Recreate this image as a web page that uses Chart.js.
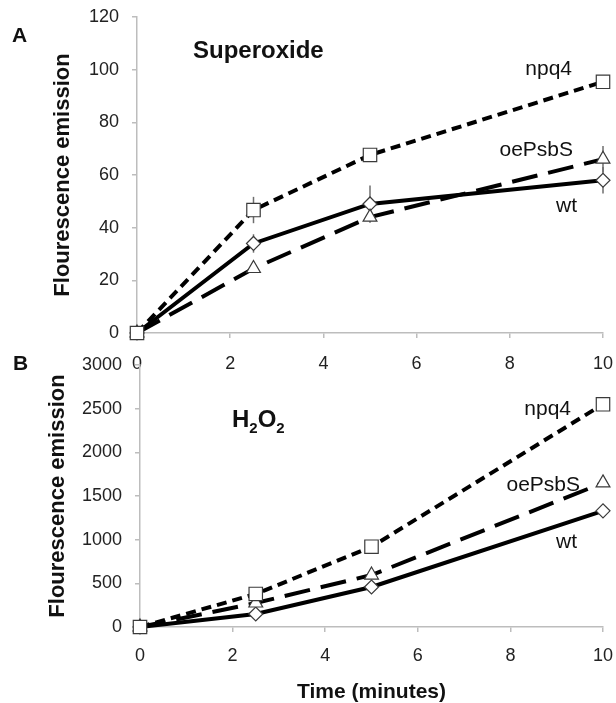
<!DOCTYPE html>
<html>
<head>
<meta charset="utf-8">
<script src="https://cdn.jsdelivr.net/npm/chart.js@4.4.1/dist/chart.umd.min.js"></script>
<style>
  html, body { margin: 0; padding: 0; background: #fff; }
  #wrap { position: relative; width: 616px; height: 703px; overflow: hidden; }
  canvas { position: absolute; left: 0; }
  #chartA { top: 0; }
  #chartB { top: 340px; }
</style>
</head>
<body>
<div id="wrap">
  <canvas id="chartA" width="616" height="380"></canvas>
  <canvas id="chartB" width="616" height="363"></canvas>
</div>
<script>
// Time points (minutes)
const times = [0, 2.5, 5, 10];
const xTicks = [0, 2, 4, 6, 8, 10];

// Panel A - superoxide
const supNpq4 = [0, 46.7, 67.6, 95.4];
const supOePsbS = [0, 24.5, 44, 66];
const supWt = [0, 34, 49, 58];
const supNpq4Err = [0, 5, 2, 0];
const supOePsbSErr = [0, 1, 2, 5];
const supWtErr = [0, 3.5, 7, 5];
const supYTicks = [0, 20, 40, 60, 80, 100, 120];

// Panel B - H2O2
const hpNpq4 = [0, 378, 919, 2550];
const hpOePsbS = [0, 275, 595, 1650];
const hpWt = [0, 149, 458, 1330];
const hpNpq4Err = [0, 0, 0, 60];
const hpOePsbSErr = [0, 0, 0, 0];
const hpWtErr = [0, 0, 0, 0];
const hpYTicks = [0, 500, 1000, 1500, 2000, 2500, 3000];

const FONT = '"Liberation Sans", Arial, sans-serif';
const AXIS_GREY = '#bdbdbd';

const styles = {
  npq4:   { dash: [10, 6],  point: 'rect',     radius: 9.5 },
  oePsbS: { dash: [26, 11], point: 'triangle', radius: 8 },
  wt:     { dash: [],       point: 'rectRot',  radius: 7 }
};

function dataset(label, values, errors) {
  const s = styles[label];
  return {
    label,
    data: values.map((v, i) => ({ x: times[i], y: v })),
    errors,
    borderColor: '#000',
    borderWidth: 4,
    borderDash: s.dash,
    pointStyle: s.point,
    pointRadius: s.radius,
    pointBackgroundColor: '#fff',
    pointBorderColor: '#3a3a3a',
    pointBorderWidth: 1.2,
    tension: 0,
    clip: false
  };
}

// vertical error bars, drawn behind the lines
const errorBars = {
  id: 'errorBars',
  beforeDatasetsDraw(chart) {
    const { ctx, scales: { x, y } } = chart;
    ctx.save();
    ctx.strokeStyle = '#6e6e6e';
    ctx.lineWidth = 1.5;
    chart.data.datasets.forEach(ds => {
      (ds.errors || []).forEach((e, i) => {
        if (!e) return;
        const p = ds.data[i];
        const px = x.getPixelForValue(p.x);
        ctx.beginPath();
        ctx.moveTo(px, y.getPixelForValue(p.y + e));
        ctx.lineTo(px, y.getPixelForValue(p.y - e));
        ctx.stroke();
      });
    });
    ctx.restore();
  }
};

// panel letter, panel title and the series labels next to the last points
function panelText(cfg) {
  return {
    id: 'panelText',
    afterDraw(chart) {
      const ctx = chart.ctx;
      ctx.save();
      ctx.fillStyle = '#111';
      ctx.textBaseline = 'alphabetic';
      ctx.textAlign = 'left';
      ctx.font = 'bold 21px ' + FONT;
      ctx.fillText(cfg.letter, cfg.letterPos[0], cfg.letterPos[1]);
      let tx = cfg.titlePos[0];
      cfg.title.forEach(part => {
        ctx.font = part.sub ? 'bold 15px ' + FONT : 'bold 24px ' + FONT;
        ctx.fillText(part.t, tx, cfg.titlePos[1] + (part.sub ? 6 : 0));
        tx += ctx.measureText(part.t).width;
      });
      ctx.font = '21px ' + FONT;
      ctx.textAlign = 'right';
      chart.data.datasets.forEach((ds, i) => {
        const pts = chart.getDatasetMeta(i).data;
        const last = pts[pts.length - 1];
        const off = cfg.labelOffsets[ds.label];
        ctx.fillText(ds.label, last.x + off[0], last.y + off[1]);
      });
      ctx.restore();
    }
  };
}

// drop the automatic label overflow padding so the plot box sits where the layout says
function noOverflow(s) {
  s.paddingTop = 0; s.paddingBottom = 0; s.paddingLeft = 0; s.paddingRight = 0;
}

function makeChart(id, p) {
  return new Chart(document.getElementById(id), {
    type: 'line',
    data: { datasets: p.datasets },
    plugins: [errorBars, panelText(p.text)],
    options: {
      responsive: false,
      animation: false,
      devicePixelRatio: 1,
      layout: { autoPadding: false, padding: { top: p.padTop, right: 13, left: 0, bottom: 0 } },
      plugins: { legend: { display: false }, tooltip: { enabled: false } },
      scales: {
        x: {
          type: 'linear', min: 0, max: 10,
          afterBuildTicks: s => { s.ticks = xTicks.map(v => ({ value: v })); },
          afterFit: s => { s.height = p.xHeight; noOverflow(s); },
          border: { color: AXIS_GREY, width: 1.5 },
          grid: { drawOnChartArea: false, color: AXIS_GREY, lineWidth: 1.5, tickLength: 5 },
          ticks: { color: '#222', font: { family: FONT, size: 18 }, padding: p.xPad, maxRotation: 0,
                   callback: v => String(v) },
          title: p.xTitle ? {
            display: true, text: p.xTitle, color: '#111',
            font: { family: FONT, size: 21, weight: 'bold', lineHeight: 1 }, padding: { top: 0, bottom: 0 }
          } : { display: false }
        },
        y: {
          type: 'linear', min: 0, max: p.yMax,
          afterBuildTicks: s => { s.ticks = p.yTicks.map(v => ({ value: v })); },
          afterFit: s => { s.width = p.yWidth; noOverflow(s); },
          border: { color: AXIS_GREY, width: 1.5 },
          grid: { drawOnChartArea: false, color: AXIS_GREY, lineWidth: 1.5, tickLength: 5 },
          ticks: { color: '#222', font: { family: FONT, size: 18 }, padding: 13,
                   callback: v => String(v) },
          title: {
            display: true, text: 'Flourescence emission', color: '#111',
            font: { family: FONT, size: 22, weight: 'bold' }, padding: { top: p.yTitlePad, bottom: 0 }
          }
        }
      }
    }
  });
}

makeChart('chartA', {
  datasets: [
    dataset('npq4', supNpq4, supNpq4Err),
    dataset('oePsbS', supOePsbS, supOePsbSErr),
    dataset('wt', supWt, supWtErr)
  ],
  yMax: 120, yTicks: supYTicks,
  padTop: 17, yWidth: 137, xHeight: 47, xPad: 15, yTitlePad: 50,
  text: {
    letter: 'A', letterPos: [12, 42],
    title: [{ t: 'Superoxide' }], titlePos: [193, 58],
    labelOffsets: { npq4: [-31, -6.5], oePsbS: [-30, -3], wt: [-26, 32] }
  }
});

makeChart('chartB', {
  datasets: [
    dataset('npq4', hpNpq4, hpNpq4Err),
    dataset('oePsbS', hpOePsbS, hpOePsbSErr),
    dataset('wt', hpWt, hpWtErr)
  ],
  yMax: 3000, yTicks: hpYTicks,
  padTop: 25, yWidth: 140, xHeight: 76, xPad: 13, yTitlePad: 45,
  xTitle: 'Time (minutes)',
  text: {
    letter: 'B', letterPos: [13, 30],
    title: [{ t: 'H' }, { t: '2', sub: true }, { t: 'O' }, { t: '2', sub: true }], titlePos: [232, 87],
    labelOffsets: { npq4: [-32, 11], oePsbS: [-23, 8], wt: [-26, 37] }
  }
});
</script>
</body>
</html>
